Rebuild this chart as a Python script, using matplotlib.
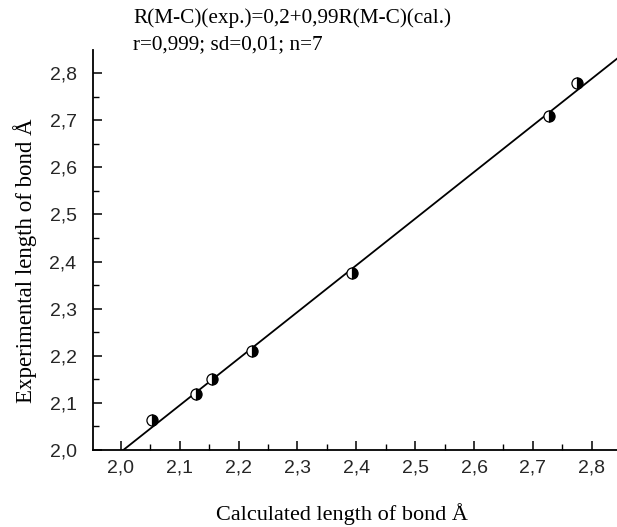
import numpy as np
import matplotlib.pyplot as plt
from matplotlib.ticker import MultipleLocator, FuncFormatter

# data
calc_len = [2.052, 2.127, 2.155, 2.222, 2.393, 2.727, 2.775]
exp_len = [2.064, 2.119, 2.150, 2.210, 2.376, 2.708, 2.780]
fit_intercept = 0.016
fit_slope = 0.99
eq_lines = ["R(M-C)(exp.)=0,2+0,99R(M-C)(cal.)", "r=0,999; sd=0,01; n=7"]

fig = plt.figure(figsize=(6.17, 5.27), dpi=100)
ax = fig.add_axes([0.1512, 0.1461, 0.8488, 0.7590])

xlim = (1.953, 2.843)
ylim = (2.0, 2.849)

# regression line
xs = np.array([(ylim[0] - fit_intercept) / fit_slope, xlim[1]])
ax.plot(xs, fit_intercept + fit_slope * xs, color="black", lw=1.3, zorder=2)

ax.plot(calc_len, exp_len, ls="none", marker="o", ms=8,
        fillstyle="right", markerfacecolor="black", markerfacecoloralt="white",
        markeredgecolor="black", markeredgewidth=0.9, zorder=3)

ax.set_xlim(*xlim)
ax.set_ylim(*ylim)
ax.xaxis.set_major_locator(MultipleLocator(0.1))
ax.xaxis.set_minor_locator(MultipleLocator(0.05))
ax.yaxis.set_major_locator(MultipleLocator(0.1))
ax.yaxis.set_minor_locator(MultipleLocator(0.05))
comma = FuncFormatter(lambda v, p: f"{v:.1f}".replace(".", ","))
ax.xaxis.set_major_formatter(comma)
ax.yaxis.set_major_formatter(comma)

for s in ["top", "right"]:
    ax.spines[s].set_visible(False)
for s in ["left", "bottom"]:
    ax.spines[s].set_linewidth(1.3)

ax.tick_params(which="major", direction="in", length=6.5, width=1.1,
               labelsize=14, labelcolor="#262626")
ax.tick_params(which="minor", direction="in", length=4, width=1.0)
ax.tick_params(axis="x", which="major", pad=7)
ax.tick_params(axis="y", which="major", pad=12)
for lab in ax.get_xticklabels() + ax.get_yticklabels():
    lab.set_family("Liberation Sans")

serif = "Liberation Serif"
fig.text(133 / 617, 1 - 18 / 527, eq_lines[0], family=serif, fontsize=15.3,
         va="center", ha="left")
fig.text(133 / 617, 1 - 45 / 527, eq_lines[1], family=serif, fontsize=15.3,
         va="center", ha="left")
fig.text(342 / 617, 1 - 514 / 527, "Calculated length of bond Å", family=serif,
         fontsize=16, ha="center", va="center")
fig.text(25 / 617, 1 - 261 / 527, "Experimental length of bond Å", family=serif,
         fontsize=16.5, ha="center", va="center", rotation=90)

fig.savefig("out.png", dpi=100)
